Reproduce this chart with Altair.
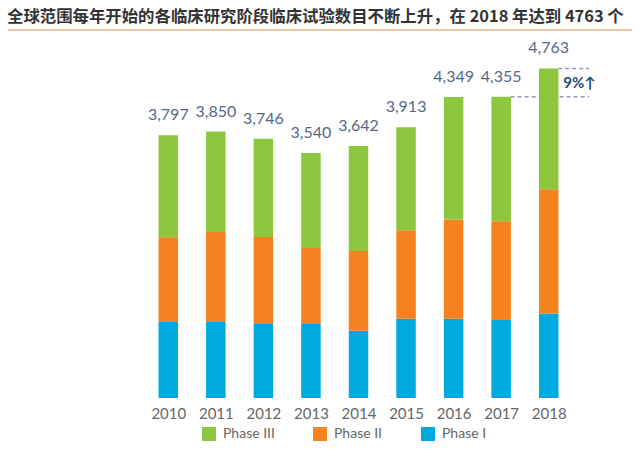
import altair as alt
import pandas as pd

years = [2010, 2011, 2012, 2013, 2014, 2015, 2016, 2017, 2018]
phase_names = ["Phase III", "Phase II", "Phase I"]
phase1 = [1097, 1097, 1068, 1068, 971, 1144, 1144, 1126, 1222]
phase2 = [1227, 1303, 1260, 1101, 1154, 1280, 1434, 1429, 1794]
phase3 = [1473, 1450, 1418, 1371, 1517, 1489, 1771, 1800, 1747]
totals = [3797, 3850, 3746, 3540, 3642, 3913, 4349, 4355, 4763]
colors = ["#8DC63F", "#F5821F", "#00A9E0"]

title_text = "全球范围每年开始的各临床研究阶段临床试验数目不断上升，在 2018 年达到 4763 个"
growth_label = "9%↑"
dash_start = [2017.2, 2018.2]
dash_end = [2018.85, 2018.85]
dash_level = [4355, 4763]

rows = []
for i, y in enumerate(years):
    rows.append({"year": y, "phase": "Phase I", "amount": phase1[i], "ord": 0})
    rows.append({"year": y, "phase": "Phase II", "amount": phase2[i], "ord": 1})
    rows.append({"year": y, "phase": "Phase III", "amount": phase3[i], "ord": 2})
df = pd.DataFrame(rows)
tot_df = pd.DataFrame({"year": years, "total": totals})
ann_df = pd.DataFrame({"year": dash_start, "xend": dash_end, "level": dash_level})
lab_df = pd.DataFrame({"year": [dash_start[1]],
                       "level": [(dash_level[0] + dash_level[1]) / 2],
                       "label": [growth_label]})

W, H = 457, 346
xscale = alt.Scale(domain=[2009.3, 2018.7], nice=False, zero=False)
yscale = alt.Scale(domain=[0, 5000], nice=False)
xaxis = alt.Axis(title=None, domain=False, ticks=False, grid=False,
                 values=years, format="d",
                 labelFont="Lato", labelFontSize=15, labelColor="#666666",
                 labelPadding=8)

bars = alt.Chart(df).mark_bar(size=19.5).encode(
    x=alt.X("year:Q", scale=xscale, axis=xaxis),
    y=alt.Y("amount:Q", stack="zero", scale=yscale, axis=None),
    color=alt.Color("phase:N",
                    scale=alt.Scale(domain=phase_names, range=colors),
                    legend=alt.Legend(orient="none", legendX=72, legendY=375,
                                      direction="horizontal", title=None,
                                      symbolType="square", symbolSize=196,
                                      symbolStrokeWidth=0, labelFont="Lato",
                                      labelFontSize=14, labelColor="#666666",
                                      columnPadding=38, labelOffset=7)),
    order=alt.Order("ord:Q", sort="ascending"),
)

labels = alt.Chart(tot_df).mark_text(
    font="Lato", fontSize=16, color="#56688a", baseline="middle", dy=-20
).encode(
    x=alt.X("year:Q", scale=xscale, axis=xaxis),
    y=alt.Y("total:Q", scale=yscale, axis=None),
    text=alt.Text("total:Q", format=","),
)

dashes = alt.Chart(ann_df).mark_rule(
    color="#8f9db5", strokeDash=[4, 3], strokeWidth=1.5
).encode(
    x=alt.X("year:Q", scale=xscale, axis=xaxis),
    x2="xend:Q",
    y=alt.Y("level:Q", scale=yscale, axis=None),
)

growth = alt.Chart(lab_df).mark_text(
    font="Lato", fontSize=15, fontWeight="bold", color="#1f4e79",
    align="left", baseline="middle", dx=5
).encode(
    x=alt.X("year:Q", scale=xscale, axis=xaxis),
    y=alt.Y("level:Q", scale=yscale, axis=None),
    text="label:N",
)

line = alt.Chart(lab_df).mark_rule(color="#ebc7a3", strokeWidth=2).encode(
    x=alt.value(-122), x2=alt.value(W + 45), y=alt.value(-22)
)

chart = alt.layer(dashes, bars, labels, growth, line).properties(
    width=W, height=H,
    autosize=alt.AutoSizeParams(type="none"),
    padding={"left": 122, "top": 44, "right": 45, "bottom": 44},
    title=alt.Title(title_text, anchor="start", dx=0, offset=4,
                    font="Noto Sans CJK SC", fontSize=16.4, fontWeight="bold",
                    color="#333333"),
).configure_view(stroke=None)

chart.save("out.html", embed_options={"renderer": "svg", "actions": False})
